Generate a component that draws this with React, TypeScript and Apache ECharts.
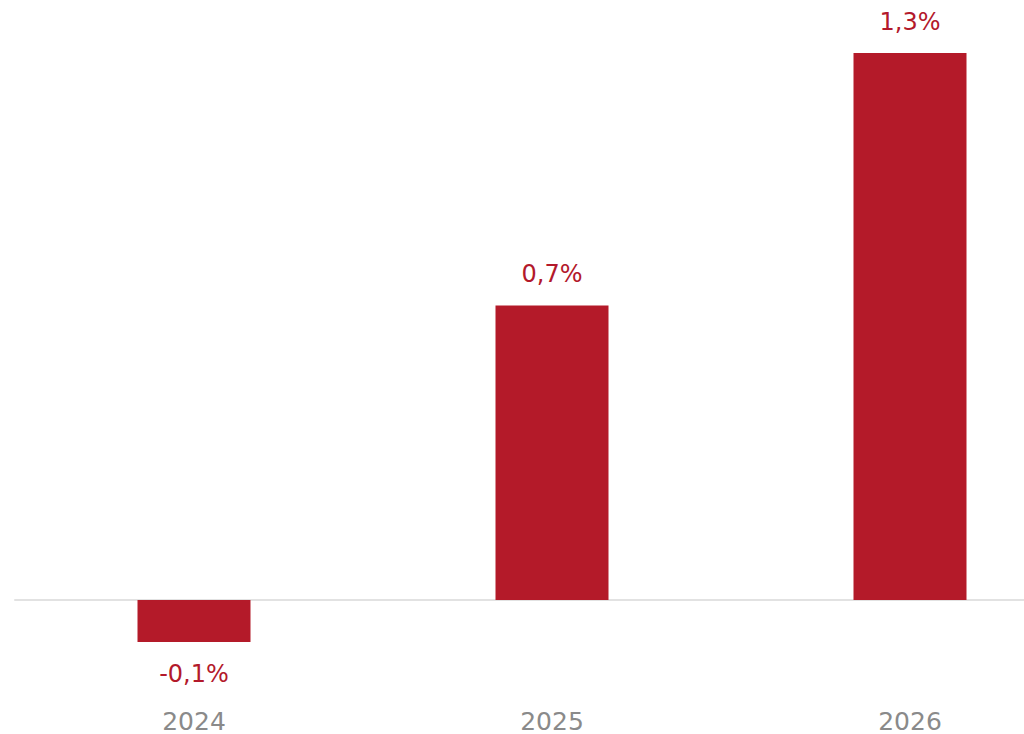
import React, { useEffect, useRef } from "react";
import * as echarts from "echarts";

const categories = ["2024", "2025", "2026"];
const values = [-0.1, 0.7, 1.3];

export default function App() {
  const ref = useRef<HTMLDivElement>(null);
  useEffect(() => {
    if (!ref.current) return;
    const chart = echarts.init(ref.current, null, { renderer: "svg" });
    chart.setOption({
      animation: false,
      backgroundColor: "#ffffff",
      grid: {
        left: 15,
        width: 1074,
        top: 10.9,
        bottom: 49.8,
        containLabel: false,
        outerBoundsMode: "none",
      },
      xAxis: {
        type: "category",
        data: categories,
        axisLine: { show: true, onZero: true, lineStyle: { color: "#e2e2e2", width: 2 } },
        axisTick: { show: false },
        axisLabel: {
          margin: 25,
          color: "#8a8a8a",
          fontFamily: "DejaVu Sans",
          fontSize: 25,
        },
        splitLine: { show: false },
      },
      yAxis: {
        type: "value",
        min: -0.2,
        max: 1.4,
        show: false,
        splitLine: { show: false },
      },
      series: [
        {
          type: "bar",
          data: values.map((v) =>
            v < 0
              ? { value: v, label: { position: "bottom", distance: 20 } }
              : v
          ),
          barWidth: 113,
          itemStyle: { color: "#B41A29" },
          label: {
            show: true,
            position: "top",
            distance: 19,
            color: "#B3192B",
            fontFamily: "DejaVu Sans",
            fontSize: 24,
            formatter: (p: any) => p.value.toFixed(1).replace(".", ",") + "%",
          },
        },
      ],
    });
    return () => chart.dispose();
  }, []);
  return (
    <div
      ref={ref}
      style={{ position: "fixed", left: 0, top: 0, width: 1024, height: 734 }}
    />
  );
}
